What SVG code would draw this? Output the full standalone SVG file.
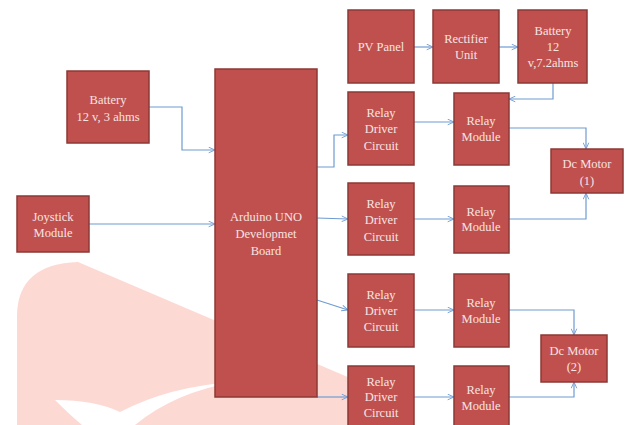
<svg xmlns="http://www.w3.org/2000/svg" width="627" height="425" viewBox="0 0 627 425">
<style>
.box{fill:#c0504d;stroke:#8c3836;stroke-width:1.5}
.t{font-family:'Liberation Serif','DejaVu Serif',serif;font-size:12.5px;fill:#f6e4e3;text-anchor:middle}
.c{fill:none;stroke:#6f9bd2;stroke-width:1.2}
</style>
<defs>
<marker id="ah" viewBox="0 0 10 10" refX="10" refY="5" markerWidth="7" markerHeight="7" markerUnits="userSpaceOnUse" orient="auto">
<polyline points="1,1 10,5 1,9" fill="none" stroke="#6f9bd2" stroke-width="1.3"/>
</marker>
</defs>
<rect width="627" height="425" fill="#ffffff"/>
<g id="watermark">
<path d="M17,425 L17,315 Q18,264 78,262 L350,378 L350,425 Z" fill="#fdd9d4"/>
<path d="M55,400 Q70,415 82,425 L135,425 Q175,392 235,382 Q170,386 120,412 Q95,400 55,400 Z" fill="#ffffff"/>
</g>
<g id="connectors">
<polyline class="c" points="149,107 182,107 182,150 215,150" marker-end="url(#ah)"/>
<polyline class="c" points="89,224 215,224" marker-end="url(#ah)"/>
<polyline class="c" points="414,47 433,47" marker-end="url(#ah)"/>
<polyline class="c" points="499,47 518,47" marker-end="url(#ah)"/>
<polyline class="c" points="553,83 553,99 509,99" marker-end="url(#ah)"/>
<polyline class="c" points="317,167 334,167 334,135 348,135" marker-end="url(#ah)"/>
<polyline class="c" points="414,122 454,122" marker-end="url(#ah)"/>
<polyline class="c" points="509,128 586,128 586,149" marker-end="url(#ah)"/>
<polyline class="c" points="317,218 348,219" marker-end="url(#ah)"/>
<polyline class="c" points="414,219 454,219" marker-end="url(#ah)"/>
<polyline class="c" points="509,219 586,219 586,193" marker-end="url(#ah)"/>
<polyline class="c" points="317,300 348,310" marker-end="url(#ah)"/>
<polyline class="c" points="414,310 454,310" marker-end="url(#ah)"/>
<polyline class="c" points="509,310 574,310 574,335" marker-end="url(#ah)"/>
<polyline class="c" points="317,397 348,397" marker-end="url(#ah)"/>
<polyline class="c" points="414,397 454,397" marker-end="url(#ah)"/>
<polyline class="c" points="509,397 574,397 574,382" marker-end="url(#ah)"/>
</g>
<g id="battery1"><rect class="box" x="67" y="71" width="82" height="72"/><text class="t" x="108" y="104">Battery</text><text class="t" x="108" y="121">12 v, 3 ahms</text></g>
<g id="joystick"><rect class="box" x="17" y="196" width="72" height="56"/><text class="t" x="53" y="221">Joystick</text><text class="t" x="53" y="237">Module</text></g>
<g id="arduino"><rect class="box" x="215" y="69" width="102" height="328"/><text class="t" x="266" y="221">Arduino UNO</text><text class="t" x="266" y="238">Developmet</text><text class="t" x="266" y="255">Board</text></g>
<g id="pv"><rect class="box" x="348" y="10" width="66" height="73"/><text class="t" x="381" y="51">PV Panel</text></g>
<g id="rectifier"><rect class="box" x="433" y="10" width="66" height="73"/><text class="t" x="466" y="43">Rectifier</text><text class="t" x="466" y="59">Unit</text></g>
<g id="battery2"><rect class="box" x="518" y="10" width="69" height="73"/><text class="t" x="553" y="35">Battery</text><text class="t" x="553" y="51">12</text><text class="t" x="553" y="67">v,7.2ahms</text></g>
<g id="rdc1"><rect class="box" x="348" y="92" width="66" height="73"/><text class="t" x="381" y="117">Relay</text><text class="t" x="381" y="133">Driver</text><text class="t" x="381" y="150">Circuit</text></g>
<g id="rm1"><rect class="box" x="454" y="93" width="55" height="72"/><text class="t" x="481" y="125">Relay</text><text class="t" x="481" y="141">Module</text></g>
<g id="motor1"><rect class="box" x="551" y="149" width="72" height="44"/><text class="t" x="587" y="168">Dc Motor</text><text class="t" x="587" y="185">(1)</text></g>
<g id="rdc2"><rect class="box" x="348" y="183" width="66" height="72"/><text class="t" x="381" y="208">Relay</text><text class="t" x="381" y="224">Driver</text><text class="t" x="381" y="241">Circuit</text></g>
<g id="rm2"><rect class="box" x="454" y="186" width="55" height="67"/><text class="t" x="481" y="216">Relay</text><text class="t" x="481" y="231">Module</text></g>
<g id="rdc3"><rect class="box" x="348" y="274" width="66" height="73"/><text class="t" x="381" y="299">Relay</text><text class="t" x="381" y="315">Driver</text><text class="t" x="381" y="331">Circuit</text></g>
<g id="rm3"><rect class="box" x="454" y="274" width="55" height="73"/><text class="t" x="481" y="307">Relay</text><text class="t" x="481" y="323">Module</text></g>
<g id="motor2"><rect class="box" x="541" y="335" width="66" height="47"/><text class="t" x="574" y="355">Dc Motor</text><text class="t" x="574" y="371">(2)</text></g>
<g id="rdc4"><rect class="box" x="348" y="366" width="66" height="64"/><text class="t" x="381" y="386">Relay</text><text class="t" x="381" y="401">Driver</text><text class="t" x="381" y="417">Circuit</text></g>
<g id="rm4"><rect class="box" x="454" y="366" width="55" height="64"/><text class="t" x="481" y="394">Relay</text><text class="t" x="481" y="410">Module</text></g>
</svg>
